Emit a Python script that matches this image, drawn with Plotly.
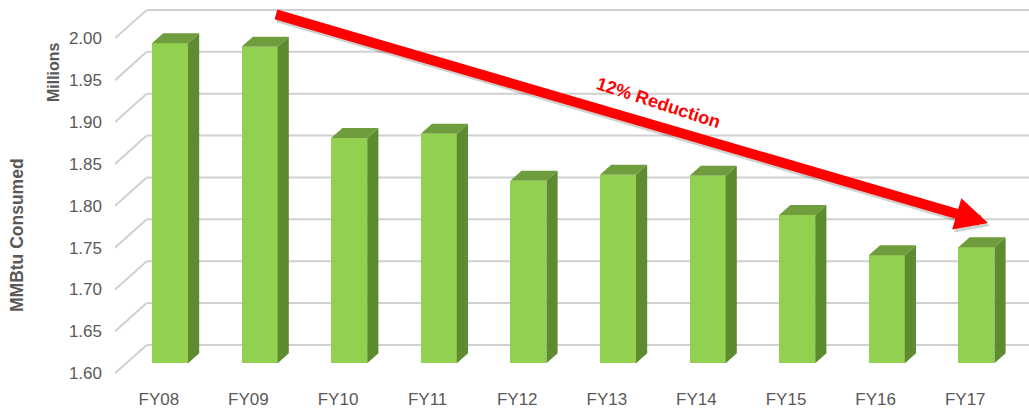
import plotly.graph_objects as go

# ---- data ----
categories = ["FY08", "FY09", "FY10", "FY11", "FY12", "FY13", "FY14", "FY15", "FY16", "FY17"]
mmbtu_millions = [1.982, 1.978, 1.869, 1.874, 1.818, 1.825, 1.824, 1.777, 1.729, 1.7385]
y_ticks = [1.60, 1.65, 1.70, 1.75, 1.80, 1.85, 1.90, 1.95, 2.00]
annotation_text = "12% Reduction"

# ---- oblique 3D geometry (axis units) ----
PX_X = 89.6     # px per category
PX_Y = 837.5    # px per unit of value
WALL_DX = 31.7 / PX_X   # full depth offset, x
WALL_DY = 28.3 / PX_Y   # full depth offset, y
BAR_D0, BAR_D1 = 0.353, 0.706   # bar front/back depth fractions
BAR_W = 36 / PX_X
Y_BASE = y_ticks[0]
X_LEFT, X_RIGHT = -0.614, 9.587
Y_LOW, Y_HIGH = 1.592, 2.0457

FRONT = "#92D050"
SIDE = "#5E8A30"
TOP = "#6F9D3D"
GRID = "#D0D0D0"
TXT = "#595959"
TICKFONT = "Liberation Sans, Arial, sans-serif"

fig = go.Figure()

# gridlines: side wall diagonal + back wall horizontal (below the bars)
for t in y_ticks:
    fig.add_shape(type="line", x0=X_LEFT, y0=t, x1=X_LEFT + WALL_DX, y1=t + WALL_DY,
                  xref="x", yref="y", layer="below", line=dict(color=GRID, width=2))
    fig.add_shape(type="line", x0=X_LEFT + WALL_DX, y0=t + WALL_DY, x1=X_RIGHT + 1, y1=t + WALL_DY,
                  xref="x", yref="y", layer="below", line=dict(color=GRID, width=2))

# bars
off_x0, off_y0 = BAR_D0 * WALL_DX, BAR_D0 * WALL_DY
dd = BAR_D1 - BAR_D0
bdx, bdy = dd * WALL_DX, dd * WALL_DY
idx = list(range(len(categories)))

sx, sy, tx, ty = [], [], [], []
for i, v in zip(idx, mmbtu_millions):
    b = Y_BASE + off_y0
    top = v + off_y0
    r = i + BAR_W / 2
    l = i - BAR_W / 2
    sx += [r, r, r + bdx, r + bdx, r, None]
    sy += [b, top, top + bdy, b + bdy, b, None]
    tx += [l, r, r + bdx, l + bdx, l, None]
    ty += [top, top, top + bdy, top + bdy, top, None]

fig.add_trace(go.Bar(x=idx, y=[v - Y_BASE for v in mmbtu_millions], base=Y_BASE + off_y0,
                     width=BAR_W, marker=dict(color=FRONT, line=dict(width=0)),
                     showlegend=False, hoverinfo="skip"))
fig.add_trace(go.Scatter(x=sx, y=sy, fill="toself", fillcolor=SIDE, mode="lines",
                         line=dict(width=0, color=SIDE), hoverinfo="skip", showlegend=False))
fig.add_trace(go.Scatter(x=tx, y=ty, fill="toself", fillcolor=TOP, mode="lines",
                         line=dict(width=0, color=TOP), hoverinfo="skip", showlegend=False))

# arrow (shadow + arrow) and label
for col, dxs, dys in [("rgba(0,0,0,0.18)", 2, 3), ("#FF0000", 0, 0)]:
    fig.add_annotation(x=9.129, y=1.7795, xref="x", yref="y", text="",
                       showarrow=True, ax=-713.5, ay=-209,
                       xshift=dxs, yshift=-dys,
                       arrowhead=2, arrowsize=0.65, arrowwidth=10, arrowcolor=col)
fig.add_annotation(x=5.457, y=1.9228, xref="x", yref="y", text="<b>" + annotation_text + "</b>",
                   showarrow=False, textangle=18, xanchor="center", yanchor="middle",
                   font=dict(family=TICKFONT, size=18, color="#FF0000"))

# axis titles
fig.add_annotation(x=-0.0678, y=0.8105, xref="paper", yref="paper", text="<b>Millions</b>",
                   showarrow=False, textangle=-90, xanchor="center", yanchor="middle",
                   font=dict(family="Liberation Sans, Arial, sans-serif", size=16, color=TXT))
fig.add_annotation(x=-0.1072, y=0.3816, xref="paper", yref="paper", text="<b>MMBtu Consumed</b>",
                   showarrow=False, textangle=-90, xanchor="center", yanchor="middle",
                   font=dict(family="Liberation Sans, Arial, sans-serif", size=17.5, color=TXT))

fig.update_layout(
    width=1029, height=410,
    margin=dict(l=115, r=0, t=0, b=30),
    plot_bgcolor="white", paper_bgcolor="white",
    bargap=0,
    xaxis=dict(range=[X_LEFT, X_RIGHT], tickvals=[i - off_x0 for i in idx], ticktext=categories,
               showgrid=False, zeroline=False, showline=False, ticks="",
               tickfont=dict(family=TICKFONT, size=17, color=TXT), ticklabelstandoff=7),
    yaxis=dict(range=[Y_LOW, Y_HIGH], tickvals=y_ticks, tickformat=".2f",
               showgrid=False, zeroline=False, showline=False, ticks="",
               tickfont=dict(family=TICKFONT, size=17, color=TXT), ticklabelstandoff=12),
)

fig.write_html("out.html", config={"displayModeBar": False},
               post_script="document.body.style.margin='0';")
